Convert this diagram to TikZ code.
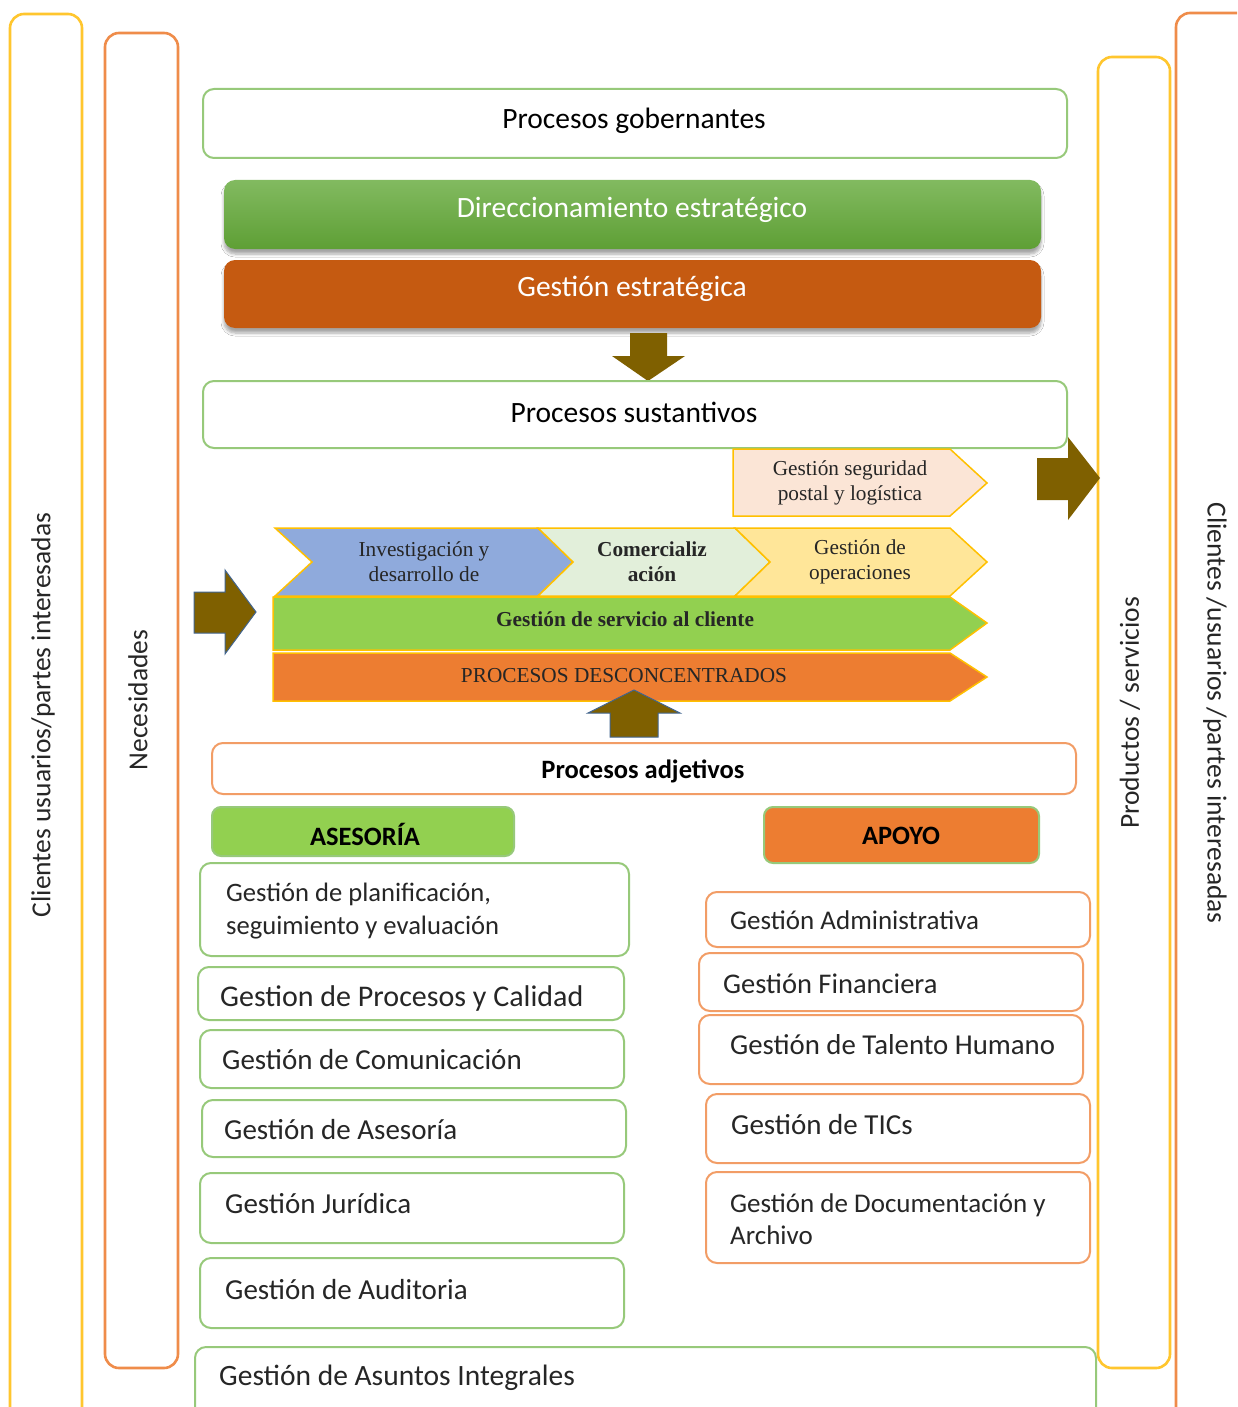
\documentclass[tikz,border=0pt]{standalone}
\usepackage{fontspec}
\setmainfont{Carlito}
\newfontfamily\serifrm{Liberation Serif}
\usetikzlibrary{shadows.blur}

\definecolor{colyellow}{HTML}{FFC62E}
\definecolor{colorange}{HTML}{EF8C4A}
\definecolor{bordgreen}{HTML}{97C97A}
\definecolor{bordorange}{HTML}{F29D66}
\definecolor{dirtop}{HTML}{82BA60}
\definecolor{dirbot}{HTML}{5E9F35}
\definecolor{gestfill}{HTML}{C55A11}
\definecolor{arrowfill}{HTML}{7F6000}
\definecolor{arrowline}{HTML}{41648F}
\definecolor{chevline}{HTML}{FFC000}
\definecolor{segfill}{HTML}{FBE5D6}
\definecolor{invfill}{HTML}{8FAADC}
\definecolor{comfill}{HTML}{E2EFDA}
\definecolor{opefill}{HTML}{FFE699}
\definecolor{serfill}{HTML}{92D050}
\definecolor{desfill}{HTML}{ED7D31}
\definecolor{txtdark}{HTML}{262626}

\tikzset{
  colbox/.style={draw, line width=2.6pt, rounded corners=14pt, inner sep=0pt},
  procbox/.style={draw, line width=2pt, rounded corners=11pt, fill=white, inner sep=0pt},
  gbox/.style={procbox, draw=bordgreen},
  obox/.style={procbox, draw=bordorange},
  barbox/.style={rounded corners=11pt, inner sep=0pt,
    blur shadow={shadow xshift=0pt, shadow yshift=-5pt, shadow blur steps=6,
      shadow blur radius=3pt, shadow opacity=35}},
  txt/.style={font=\fontsize{29}{33}\selectfont, text=txtdark, inner sep=0pt, align=left},
  ttxt/.style={font=\fontsize{29.5}{33}\selectfont, text=black, inner sep=0pt},
  btxt/.style={font=\bfseries\fontsize{26.5}{30}\selectfont, text=black, inner sep=0pt},
  vtxt/.style={font=\fontsize{27.5}{32}\selectfont, text=txtdark, inner sep=0pt},
  chev/.style={draw=chevline, line width=1.5pt, line join=miter},
  chtxt/.style={font=\serifrm\fontsize{21.3}{25}\selectfont, text=txtdark, align=center, inner sep=0pt},
  blockarrow/.style={fill=arrowfill},
  rimarrow/.style={fill=arrowfill, draw=arrowline, line width=1pt}
}

\begin{document}
\begin{tikzpicture}[x=1pt, y=-1pt]
\useasboundingbox (0,0) rectangle (1237,1407);
\fill[white] (0,0) rectangle (1237,1407);
\clip (0,0) rectangle (1237,1407);

% side columns
\node[colbox, draw=colyellow, minimum width=72pt, minimum height=1446pt] (colL) at (46,737) {};
\node[colbox, draw=colorange, minimum width=73pt, minimum height=1335pt] (colN) at (141.5,700.5) {};
\node[colbox, draw=colyellow, minimum width=72pt, minimum height=1311pt] (colP) at (1134,712.5) {};
\node[colbox, draw=colorange, minimum width=124pt, minimum height=1447pt] (colR) at (1238,736.5) {};

\node[vtxt, rotate=90] (colLt) at (43,715) {Clientes usuarios/partes interesadas};
\node[vtxt, rotate=90] (colNt) at (138,700) {Necesidades};
\node[vtxt, rotate=90] (colPt) at (1130,713) {Productos / servicios};
\node[vtxt, rotate=-90] (colRt) at (1215,713) {Clientes /usuarios /partes interesadas};

% governing processes
\node[gbox, minimum width=864pt, minimum height=69pt] (gob) at (635,123.5) {};
\node[ttxt] (gobt) at (634,121) {Procesos gobernantes};

\node[barbox, top color=dirtop, bottom color=dirbot, minimum width=817pt, minimum height=69pt] (dir) at (632.5,214.5) {};
\node[ttxt, text=white] (dirt) at (632,210) {Direccionamiento estratégico};

\node[barbox, fill=gestfill, minimum width=817pt, minimum height=68pt] (gest) at (632.5,294) {};
\node[ttxt, text=white] (gestt) at (632,289) {Gestión estratégica};

\fill[blockarrow] (630,333) -- (667,333) -- (667,356) -- (685,356) -- (648,381)
  -- (612,356) -- (630,356) -- cycle;

% substantive processes
\node[gbox, minimum width=864pt, minimum height=67pt] (sust) at (635,414.5) {};
\node[ttxt] (sustt) at (634,412) {Procesos sustantivos};

\fill[blockarrow] (1037,458) -- (1068,458) -- (1068,437) -- (1100,478) -- (1068,520)
  -- (1068,500) -- (1037,500) -- cycle;

\path[chev, fill=segfill] (733,449) -- (950,449) -- (987,483) -- (950,516) -- (733,516) -- cycle;
\node[chtxt] (segt) at (850,483) {Gestión seguridad\\postal y logística};

\path[chev, fill=invfill] (275,528) -- (538,528) -- (573,562) -- (538,596) -- (275,596) -- (312,562) -- cycle;
\path[chev, fill=comfill] (538,528) -- (735,528) -- (770,562) -- (735,596) -- (538,596) -- (573,562) -- cycle;
\path[chev, fill=opefill] (735,528) -- (950,528) -- (987,562) -- (950,596) -- (735,596) -- (770,562) -- cycle;
\node[chtxt] (invt) at (424,562) {Investigación y\\desarrollo de};
\node[chtxt, font=\serifrm\bfseries\fontsize{21.3}{25}\selectfont] (comt) at (652,562) {Comercializ\\ación};
\node[chtxt] (opet) at (860,562) {Gestión de\\operaciones};

\path[chev, fill=serfill] (273,597) -- (950,597) -- (987,623) -- (950,650) -- (273,650) -- cycle;
\node[chtxt, font=\serifrm\bfseries\fontsize{21.3}{25}\selectfont] (sert) at (625,619) {Gestión de servicio al cliente};

\path[chev, fill=desfill] (273,653) -- (950,653) -- (987,677) -- (950,701) -- (273,701) -- cycle;
\node[chtxt] (dest) at (624,676) {PROCESOS DESCONCENTRADOS};

\path[rimarrow] (194,592) -- (225,592) -- (225,570) -- (256,612) -- (225,654)
  -- (225,633) -- (194,633) -- cycle;
\path[rimarrow] (610,737) -- (610,713) -- (588,713) -- (634,690) -- (680,713)
  -- (658,713) -- (658,737) -- cycle;

% adjective processes
\node[obox, minimum width=864pt, minimum height=51pt] (adj) at (644,768.5) {};
\node[btxt] (adjt) at (643,771) {Procesos adjetivos};

\node[procbox, draw=bordgreen, fill=serfill, rounded corners=9pt, minimum width=302pt, minimum height=49pt] (ases) at (363,831.5) {};
\node[btxt] (asest) at (365,834) {ASESORÍA};

\node[procbox, draw=bordgreen, fill=desfill, rounded corners=9pt, minimum width=275pt, minimum height=56pt] (apoyo) at (901.5,835) {};
\node[btxt] (apoyot) at (901,836) {APOYO};

% advisory column
\node[gbox, minimum width=429pt, minimum height=93pt] (plan) at (414.5,909.5) {};
\node[txt, anchor=west, font=\fontsize{26.6}{33}\selectfont] (plant) at (226,911) {Gestión de planificación,\\seguimiento y evaluación};
\node[gbox, minimum width=426pt, minimum height=53pt] (calid) at (411,993.5) {};
\node[txt, anchor=west, font=\fontsize{30}{33}\selectfont] (calidt) at (220,998) {Gestion de Procesos y Calidad};
\node[gbox, minimum width=424pt, minimum height=58pt] (comun) at (412,1059) {};
\node[txt, anchor=west] (comunt) at (222,1060) {Gestión de Comunicación};
\node[gbox, minimum width=424pt, minimum height=57pt] (asesor) at (414,1128.5) {};
\node[txt, anchor=west] (asesort) at (224,1130) {Gestión de Asesoría};
\node[gbox, minimum width=424pt, minimum height=70pt] (jurid) at (412,1208) {};
\node[txt, anchor=west] (juridt) at (225,1204) {Gestión Jurídica};
\node[gbox, minimum width=424pt, minimum height=70pt] (audit) at (412,1293) {};
\node[txt, anchor=west] (auditt) at (225,1290) {Gestión de Auditoria};
\node[gbox, minimum width=901pt, minimum height=93pt] (asunt) at (645.5,1393.5) {};
\node[txt, anchor=west, font=\fontsize{29.5}{33}\selectfont] (asuntt) at (219,1378) {Gestión de Asuntos Integrales};

% support column
\node[obox, minimum width=384pt, minimum height=55pt] (admin) at (898,919.5) {};
\node[txt, anchor=west, font=\fontsize{27}{33}\selectfont] (admint) at (730,920) {Gestión Administrativa};
\node[obox, minimum width=384pt, minimum height=58pt] (finan) at (891,982) {};
\node[txt, anchor=west, font=\fontsize{28.5}{33}\selectfont] (finant) at (723,984) {Gestión Financiera};
\node[obox, minimum width=384pt, minimum height=69pt] (talen) at (891,1049.5) {};
\node[txt, anchor=west, font=\fontsize{28.8}{33}\selectfont] (talent) at (730,1045) {Gestión de Talento Humano};
\node[obox, minimum width=384pt, minimum height=69pt] (tics) at (898,1128.5) {};
\node[txt, anchor=west] (ticst) at (731,1125) {Gestión de TICs};
\node[obox, minimum width=384pt, minimum height=91pt] (docu) at (898,1217.5) {};
\node[txt, anchor=west, font=\fontsize{27}{32}\selectfont] (docut) at (730,1219) {Gestión de Documentación y\\Archivo};
\end{tikzpicture}
\end{document}
